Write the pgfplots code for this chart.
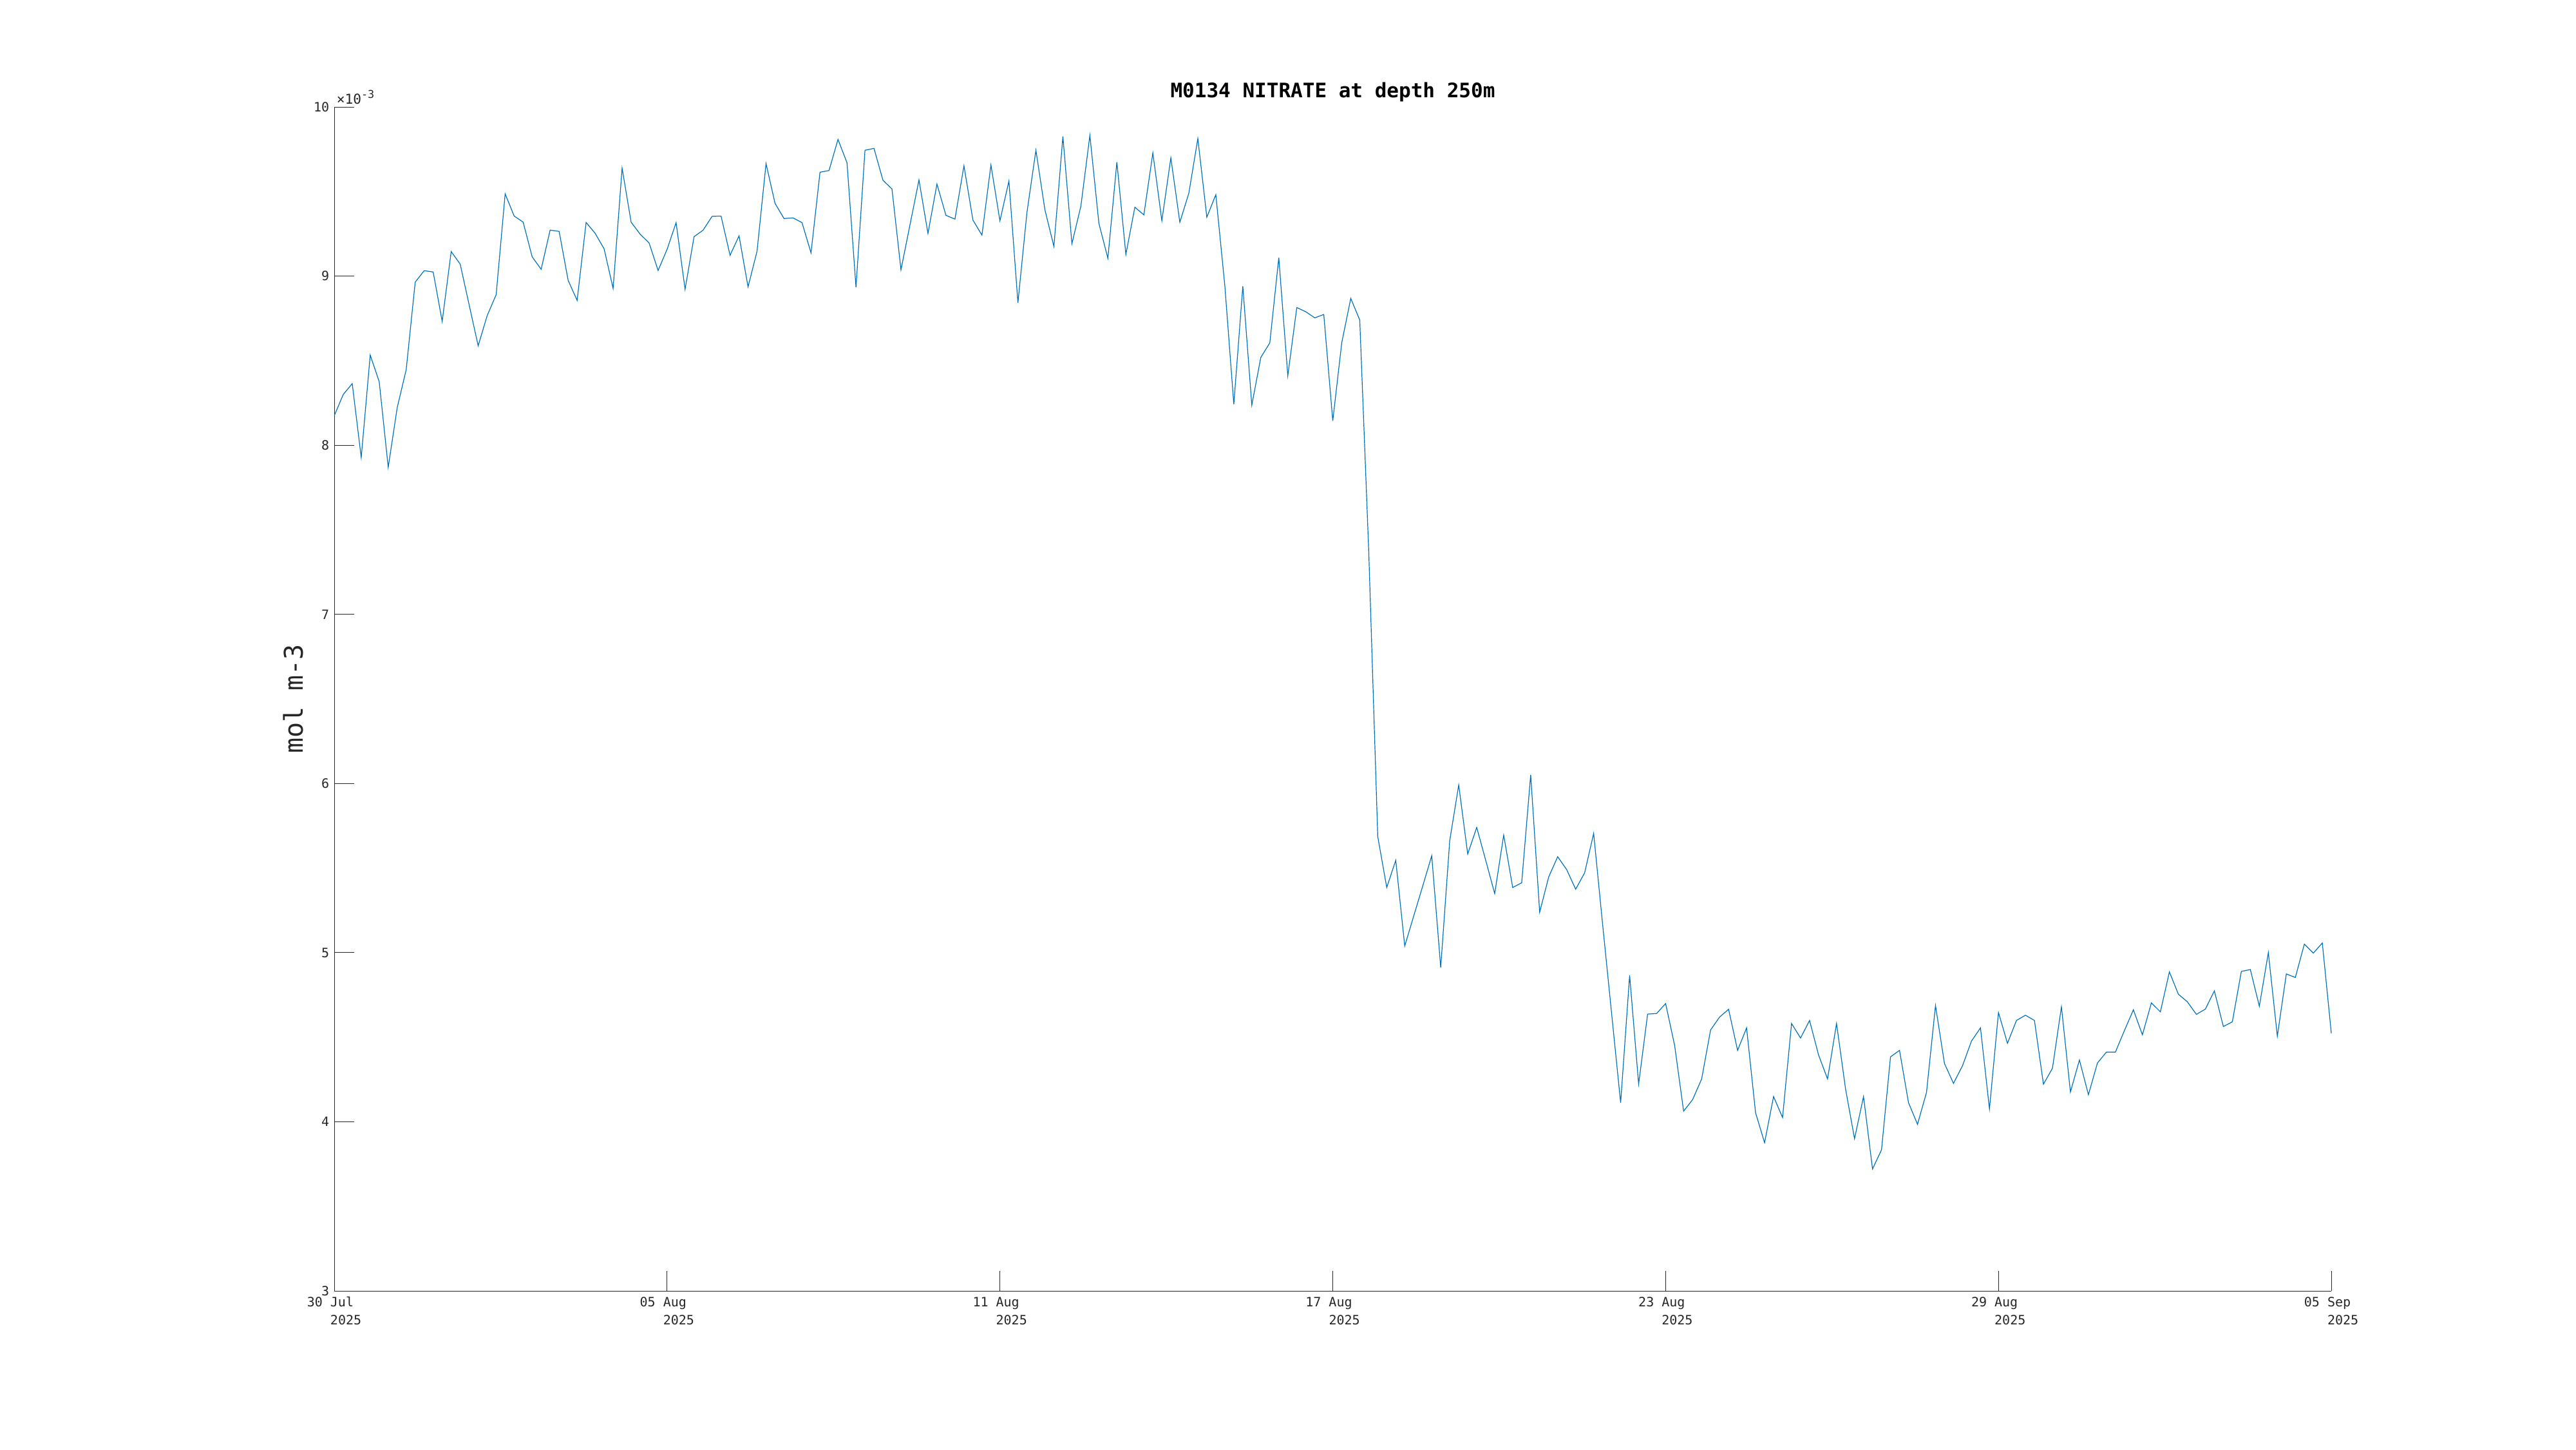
\documentclass[border=0pt]{standalone}
\usepackage{fontspec}
\setmainfont{DejaVu Sans Mono}
\usepackage{pgfplots}
\usepackage{pgfplotstable}
\pgfplotsset{compat=1.18}
\definecolor{mblue}{HTML}{0072BD}
\definecolor{axgray}{HTML}{262626}

\pgfplotstableread{
y
8.174
8.300
8.364
7.927
8.533
8.375
7.870
8.222
8.447
8.964
9.032
9.024
8.732
9.145
9.071
8.829
8.588
8.766
8.890
9.486
9.355
9.319
9.114
9.040
9.272
9.264
8.975
8.856
9.317
9.253
9.161
8.927
9.638
9.319
9.248
9.196
9.033
9.158
9.316
8.922
9.233
9.271
9.353
9.355
9.123
9.238
8.936
9.147
9.665
9.430
9.340
9.344
9.316
9.137
9.614
9.624
9.808
9.670
8.934
9.744
9.755
9.566
9.515
9.037
9.303
9.568
9.252
9.544
9.359
9.337
9.652
9.331
9.242
9.657
9.327
9.562
8.842
9.375
9.744
9.392
9.175
9.826
9.191
9.414
9.832
9.312
9.105
9.674
9.128
9.407
9.362
9.728
9.327
9.699
9.318
9.490
9.813
9.348
9.481
8.944
8.242
8.940
8.237
8.519
8.605
9.109
8.411
8.814
8.789
8.753
8.773
8.144
8.607
8.868
8.740
7.370
5.686
5.385
5.546
5.039
5.217
5.394
5.573
4.912
5.662
5.991
5.583
5.740
5.546
5.349
5.695
5.385
5.413
6.051
5.239
5.447
5.567
5.491
5.375
5.472
5.705
5.165
4.638
4.112
4.866
4.223
4.637
4.640
4.699
4.452
4.063
4.131
4.252
4.543
4.619
4.665
4.422
4.555
4.053
3.876
4.149
4.025
4.581
4.495
4.599
4.395
4.253
4.581
4.195
3.900
4.149
3.721
3.834
4.384
4.422
4.113
3.985
4.173
4.687
4.344
4.227
4.331
4.477
4.555
4.076
4.646
4.464
4.599
4.630
4.599
4.222
4.316
4.680
4.176
4.365
4.160
4.347
4.412
4.412
4.539
4.662
4.514
4.703
4.650
4.886
4.754
4.709
4.635
4.666
4.774
4.563
4.591
4.889
4.900
4.683
5.000
4.506
4.874
4.853
5.050
4.997
5.057
4.523
}\nitrate

\begin{document}
\begin{tikzpicture}
\begin{axis}[
  scale only axis, width=775.25pt, height=459.5pt,
  xmin=0, xmax=222, ymin=3, ymax=10,
  axis x line*=bottom, axis y line*=left,
  axis line style={axgray, line width=0.25pt},
  tick align=inside, major tick length=7.75pt,
  tick style={axgray, line width=0.25pt},
  xtick={0,37,74,111,148,185,222},
  xticklabels={{30 Jul\\\hphantom{000}2025},{05 Aug\\\hphantom{000}2025},{11 Aug\\\hphantom{000}2025},{17 Aug\\\hphantom{000}2025},{23 Aug\\\hphantom{000}2025},{29 Aug\\\hphantom{000}2025},{05 Sep\\\hphantom{000}2025}},
  ytick={3,4,5,6,7,8,9,10},
  /pgf/number format/assume math mode=true,
  ticklabel style={font=\fontsize{5}{7}\selectfont, text=axgray},
  xticklabel style={align=left, inner sep=0pt, yshift=-2.2pt},
  yticklabel style={inner sep=0pt, xshift=-1.75pt},
  every axis title shift=0pt,
  title={M0134 NITRATE at depth 250m},
  title style={font=\fontsize{7.75}{9}\selectfont\bfseries, at={(axis description cs:0.5,1.00778)}, anchor=base, inner sep=0pt},
  ylabel={mol m-3},
  ylabel style={font=\fontsize{10}{12}\selectfont, text=axgray, at={(axis description cs:-0.01532,0.5)}, anchor=south, inner sep=0pt},
  clip=false,
]
\addplot[mblue, line width=0.3pt, no markers] table[x expr=\coordindex, y=y] {\nitrate};
\node[anchor=base west, inner sep=0pt, text=axgray, font=\fontsize{5.3}{6}\selectfont] at (rel axis cs:0,1) [xshift=0.75pt, yshift=1.25pt] {×10\raisebox{2.25pt}{\fontsize{4.2}{5}\selectfont-3}};
\end{axis}
\path (-129.75pt,-61.5pt) rectangle (870.25pt,501pt);
\end{tikzpicture}
\end{document}
